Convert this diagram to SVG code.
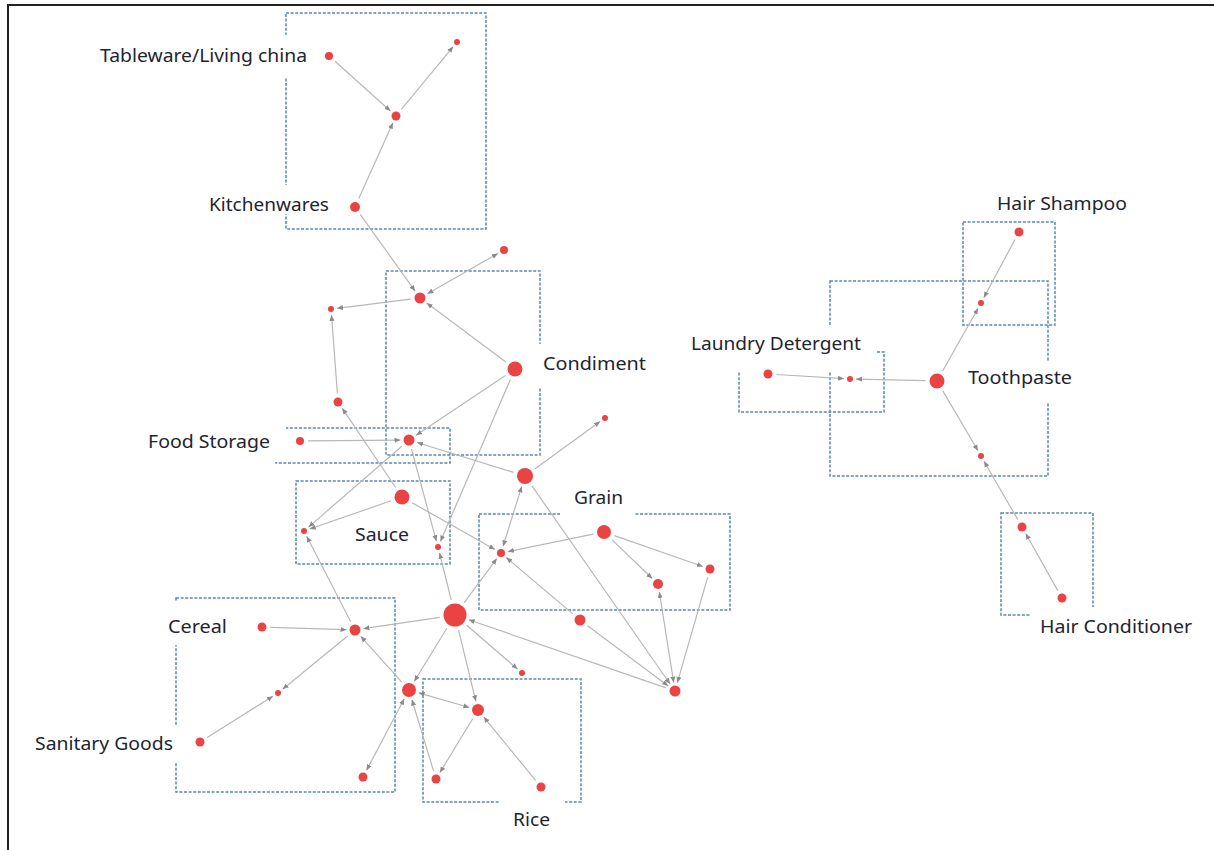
<svg xmlns="http://www.w3.org/2000/svg" width="1214" height="850" viewBox="0 0 1214 850">
<style>
.box{fill:none;stroke:#5a86b8;stroke-width:1.5;stroke-dasharray:3 1.6}
.e{fill:none;stroke:#b8b8b8;stroke-width:1.2;marker-end:url(#arr)}
.b{marker-start:url(#arr)}
.n{fill:#ea4343}
.lb{fill:#fff}
.t{font-family:"Noto Sans","Open Sans","Liberation Sans",sans-serif;font-size:18px;fill:#1e2430}
</style>
<defs>
<marker id="arr" viewBox="0 0 6 6" refX="6" refY="3" markerWidth="6" markerHeight="6" markerUnits="userSpaceOnUse" orient="auto-start-reverse">
<path d="M0,0.5 L6,3 L0,5.5 z" fill="#8a8a8a"/>
</marker>
</defs>
<rect x="0" y="0" width="1214" height="850" fill="#fff"/>
<path d="M8,850 V5 H1214" fill="none" stroke="#222" stroke-width="2"/>
<g id="boxes">
<rect class="box" x="286" y="13" width="200" height="216"/>
<rect class="box" x="386" y="271" width="154" height="184"/>
<rect class="box" x="276" y="428" width="174" height="35"/>
<rect class="box" x="296" y="481" width="154" height="83"/>
<rect class="box" x="479" y="514" width="251" height="96"/>
<rect class="box" x="176" y="598" width="219" height="194"/>
<rect class="box" x="423" y="679" width="158" height="123"/>
<rect class="box" x="830" y="281" width="218" height="195"/>
<rect class="box" x="963" y="222" width="92" height="103"/>
<rect class="box" x="739" y="352" width="145" height="60"/>
<rect class="box" x="1001" y="513" width="92" height="102"/>
</g>
<g id="connectors">
<path class="e" d="M335,61.3 L390.4,111"/>
<path class="e" d="M401.4,109.4 L453.2,46.6"/>
<path class="e" d="M358.7,198.8 L392.9,122.8"/>
<path class="e" d="M360.2,214.3 L415.1,291.1"/>
<path class="e b" d="M427.4,293.8 L497.9,253.5"/>
<path class="e" d="M505.8,362.1 L426.8,303.1"/>
<path class="e" d="M410.6,299.2 L337,308.3"/>
<path class="e" d="M337.4,393.5 L331.5,315"/>
<path class="e" d="M395.6,487.5 L342.2,408.2"/>
<path class="e" d="M308,440.9 L400.5,440.1"/>
<path class="e" d="M505.4,375.4 L416.1,435.3"/>
<path class="e" d="M513.5,472.4 L417.1,442.5"/>
<path class="e" d="M401.8,446.2 L308.5,527.1"/>
<path class="e" d="M391.1,500.8 L309.7,529"/>
<path class="e" d="M411.5,449.2 L436.4,541.2"/>
<path class="e" d="M510.4,379.6 L440.4,541.5"/>
<path class="e" d="M451.2,600 L439.5,552.8"/>
<path class="e" d="M412,502.7 L494.9,549.5"/>
<path class="e" d="M534.7,469 L600.1,421.5"/>
<path class="e b" d="M521.7,486.5 L503.1,546.3"/>
<path class="e" d="M531.9,485.8 L670.1,684"/>
<path class="e" d="M593.2,534.2 L507.9,551.6"/>
<path class="e" d="M611.9,539.6 L652.2,578.5"/>
<path class="e" d="M614.4,535.6 L702.9,566.5"/>
<path class="e" d="M572.8,613.9 L506.3,557.5"/>
<path class="e" d="M464.2,602.6 L496.8,558.6"/>
<path class="e b" d="M659.3,591.9 L673.7,682.6"/>
<path class="e" d="M707.7,577.2 L677.3,682.8"/>
<path class="e" d="M587.6,625.7 L668.2,685.9"/>
<path class="e" d="M666,687.9 L468.7,619.7"/>
<path class="e" d="M439.7,617.3 L363.4,628.7"/>
<path class="e" d="M270.5,627.3 L346.5,629.7"/>
<path class="e" d="M347.6,636 L282.6,689.2"/>
<path class="e" d="M207.2,737.5 L272.9,696.2"/>
<path class="e" d="M350.6,621.6 L306.7,536.3"/>
<path class="e" d="M401.6,681.8 L360.7,636.3"/>
<path class="e" d="M446.9,628.2 L414.2,681.5"/>
<path class="e" d="M458.6,630.1 L475.9,701.3"/>
<path class="e" d="M466.7,625.2 L517.5,669.1"/>
<path class="e b" d="M418.6,692.8 L469.4,707.5"/>
<path class="e b" d="M404.3,698.8 L366.5,770.4"/>
<path class="e" d="M433.5,770.9 L411.9,699.6"/>
<path class="e" d="M472.8,718.5 L439.9,772.6"/>
<path class="e" d="M535.6,780.4 L483.7,717"/>
<path class="e" d="M1015,239.5 L983.8,297.7"/>
<path class="e" d="M942.6,371 L978.1,308.2"/>
<path class="e" d="M776.5,374.5 L844,378.6"/>
<path class="e" d="M925.5,380.7 L856,379.1"/>
<path class="e" d="M942.8,390.9 L978,450.8"/>
<path class="e" d="M1017.8,519.6 L984,461.2"/>
<path class="e" d="M1057.8,590.6 L1025.7,533.5"/>
</g>
<g id="labels">
<rect class="lb" x="90" y="35" width="222" height="42"/>
<text class="t" x="100" y="62" textLength="207" lengthAdjust="spacingAndGlyphs">Tableware/Living china</text>
<rect class="lb" x="199" y="185" width="138" height="29"/>
<text class="t" x="209" y="211" textLength="120" lengthAdjust="spacingAndGlyphs">Kitchenwares</text>
<rect class="lb" x="535" y="344" width="120" height="44"/>
<text class="t" x="543" y="370" textLength="103" lengthAdjust="spacingAndGlyphs">Condiment</text>
<rect class="lb" x="138" y="420" width="148" height="42"/>
<text class="t" x="148" y="448" textLength="122" lengthAdjust="spacingAndGlyphs">Food Storage</text>
<text class="t" x="355" y="541" textLength="54" lengthAdjust="spacingAndGlyphs">Sauce</text>
<rect class="lb" x="560" y="480" width="75" height="38"/>
<text class="t" x="574" y="504" textLength="49" lengthAdjust="spacingAndGlyphs">Grain</text>
<rect class="lb" x="158" y="602" width="79" height="43"/>
<text class="t" x="168" y="633" textLength="59" lengthAdjust="spacingAndGlyphs">Cereal</text>
<rect class="lb" x="25" y="725" width="158" height="38"/>
<text class="t" x="35" y="750" textLength="138" lengthAdjust="spacingAndGlyphs">Sanitary Goods</text>
<rect class="lb" x="500" y="800" width="65" height="40"/>
<text class="t" x="513" y="826" textLength="37" lengthAdjust="spacingAndGlyphs">Rice</text>
<text class="t" x="997" y="210" textLength="130" lengthAdjust="spacingAndGlyphs">Hair Shampoo</text>
<rect class="lb" x="681" y="325" width="195" height="47"/>
<text class="t" x="691" y="350" textLength="170" lengthAdjust="spacingAndGlyphs">Laundry Detergent</text>
<rect class="lb" x="958" y="362" width="124" height="40"/>
<text class="t" x="968" y="384" textLength="104" lengthAdjust="spacingAndGlyphs">Toothpaste</text>
<rect class="lb" x="1030" y="607" width="172" height="38"/>
<text class="t" x="1040" y="633" textLength="152" lengthAdjust="spacingAndGlyphs">Hair Conditioner</text>
</g>
<g id="nodes">
<circle id="n-tableware" class="n" cx="329" cy="56" r="4"/>
<circle id="n-a" class="n" cx="457" cy="42" r="3"/>
<circle id="n-b" class="n" cx="396" cy="116" r="4.5"/>
<circle id="n-kitchenwares" class="n" cx="355" cy="207" r="5"/>
<circle id="n-c1" class="n" cx="420" cy="298" r="5.5"/>
<circle id="n-c2" class="n" cx="504" cy="250" r="4"/>
<circle id="n-c3" class="n" cx="331" cy="309" r="3"/>
<circle id="n-condiment" class="n" cx="515" cy="369" r="7.5"/>
<circle id="n-c4" class="n" cx="338" cy="402" r="4.5"/>
<circle id="n-foodstorage" class="n" cx="300" cy="441" r="4"/>
<circle id="n-fs2" class="n" cx="409" cy="440" r="5.5"/>
<circle id="n-sm1" class="n" cx="605" cy="418" r="3"/>
<circle id="n-big2" class="n" cx="525" cy="476" r="8"/>
<circle id="n-sauce" class="n" cx="402" cy="497" r="7.5"/>
<circle id="n-s1" class="n" cx="304" cy="531" r="3"/>
<circle id="n-s2" class="n" cx="438" cy="547" r="3"/>
<circle id="n-grain" class="n" cx="604" cy="532" r="7"/>
<circle id="n-g1" class="n" cx="501" cy="553" r="4"/>
<circle id="n-g2" class="n" cx="658" cy="584" r="5"/>
<circle id="n-g3" class="n" cx="710" cy="569" r="4.5"/>
<circle id="n-g4" class="n" cx="580" cy="620" r="5.5"/>
<circle id="n-center" class="n" cx="455" cy="615" r="11.5"/>
<circle id="n-g5" class="n" cx="675" cy="691" r="5.5"/>
<circle id="n-sm2" class="n" cx="522" cy="673" r="3"/>
<circle id="n-cereal" class="n" cx="262" cy="627" r="4.5"/>
<circle id="n-cer" class="n" cx="355" cy="630" r="5.5"/>
<circle id="n-cers" class="n" cx="278" cy="693" r="3"/>
<circle id="n-sanitary" class="n" cx="200" cy="742" r="4.5"/>
<circle id="n-cerb" class="n" cx="363" cy="777" r="4.5"/>
<circle id="n-r0" class="n" cx="409" cy="690" r="7"/>
<circle id="n-r1" class="n" cx="478" cy="710" r="6"/>
<circle id="n-r2" class="n" cx="436" cy="779" r="4.5"/>
<circle id="n-rice" class="n" cx="541" cy="787" r="4.5"/>
<circle id="n-shampoo" class="n" cx="1019" cy="232" r="4.5"/>
<circle id="n-hs2" class="n" cx="981" cy="303" r="3"/>
<circle id="n-toothpaste" class="n" cx="937" cy="381" r="7.5"/>
<circle id="n-laundry" class="n" cx="768" cy="374" r="4.5"/>
<circle id="n-ld2" class="n" cx="850" cy="379" r="3"/>
<circle id="n-tp2" class="n" cx="981" cy="456" r="3"/>
<circle id="n-hc1" class="n" cx="1022" cy="527" r="4.5"/>
<circle id="n-conditioner" class="n" cx="1062" cy="598" r="4.5"/>
</g>
</svg>
